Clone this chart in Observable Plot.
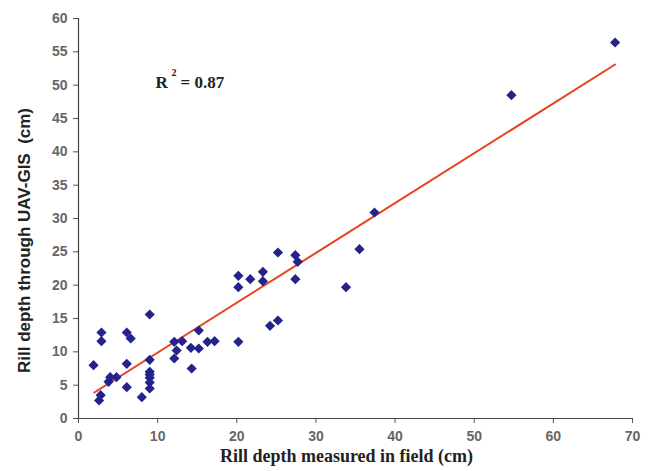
<!DOCTYPE html>
<html>
<head>
<meta charset="utf-8">
<script src="https://cdn.jsdelivr.net/npm/d3@7"></script>
<script src="https://cdn.jsdelivr.net/npm/@observablehq/plot@0.6"></script>
<style>
  html, body { margin: 0; padding: 0; background: #fff; }
  #chart svg { display: block; }
</style>
</head>
<body>
<div id="chart"></div>
<script>
// Rill depth measured in field (cm)
const fieldDepth = [
  1.9, 2.6, 2.8, 2.9, 2.9, 3.8, 4.0, 4.8, 6.1, 6.1, 6.1, 6.6,
  8.0, 9.0, 9.0, 9.0, 9.0, 9.0, 9.0, 9.0,
  12.1, 12.1, 12.4, 13.1, 14.2, 14.3, 15.2, 15.2, 16.3, 17.2,
  20.2, 20.2, 20.2, 21.7, 23.3, 23.3, 24.2, 25.2, 25.2,
  27.4, 27.4, 27.7, 33.8, 35.5, 37.4, 54.7, 67.8
];
// Rill depth through UAV-GIS (cm)
const uavDepth = [
  8.0, 2.7, 3.5, 12.9, 11.6, 5.5, 6.2, 6.2, 12.9, 8.2, 4.7, 12.0,
  3.2, 15.6, 8.8, 7.0, 6.1, 5.4, 4.5, 6.6,
  11.5, 9.0, 10.2, 11.6, 10.6, 7.5, 13.2, 10.5, 11.5, 11.6,
  21.4, 19.7, 11.5, 20.9, 22.0, 20.6, 13.9, 24.9, 14.7,
  24.5, 20.9, 23.5, 19.7, 25.4, 30.9, 48.5, 56.4
];
// Trend line end points
const fitX = [2.0, 67.8];
const fitY = [3.9, 53.1];
const rLabel = "R";
const rSup = "2";
const rValue = "= 0.87";
const xTitle = "Rill depth measured in field (cm)";
const yTitle = "Rill depth through UAV-GIS  (cm)";
const xTicks = [0, 10, 20, 30, 40, 50, 60, 70];
const yTicks = [0, 5, 10, 15, 20, 25, 30, 35, 40, 45, 50, 55, 60];

const points = fieldDepth.map((x, i) => ({x, y: uavDepth[i]}));
const fit = fitX.map((x, i) => ({x, y: fitY[i]}));

const serif = "'Liberation Serif', 'Times New Roman', serif";
const sans = "'Liberation Sans', Arial, sans-serif";

const chart = Plot.plot({
  width: 664,
  height: 471,
  marginLeft: 78,
  marginRight: 32,
  marginTop: 18,
  marginBottom: 53,
  style: {fontFamily: sans, background: "#fff"},
  x: {domain: [0, 70]},
  y: {domain: [0, 60]},
  marks: [
    Plot.axisY({
      ticks: yTicks, tickSize: 5, tickPadding: 6,
      fontSize: 14, fontWeight: "bold", fill: "#666", stroke: "#555",
      label: null
    }),
    Plot.axisX({
      ticks: xTicks, tickSize: 5, tickPadding: 8,
      fontSize: 14, fontWeight: "bold", fill: "#666", stroke: "#555",
      label: null
    }),
    Plot.ruleY([0], {stroke: "#444", strokeWidth: 1.2}),
    Plot.ruleX([0], {stroke: "#444", strokeWidth: 1.2}),
    Plot.line(fit, {x: "x", y: "y", stroke: "#e8401c", strokeWidth: 2}),
    Plot.dot(points, {x: "x", y: "y", symbol: "diamond2", r: 4.6, fill: "#24238c", stroke: "none"}),
    Plot.text([rLabel], {
      frameAnchor: "top-left", dx: 77, dy: 57, text: d => d, textAnchor: "start",
      fontFamily: serif, fontWeight: "bold", fontSize: 17, fill: "#222"
    }),
    Plot.text([rSup], {
      frameAnchor: "top-left", dx: 93, dy: 50, text: d => d, textAnchor: "start",
      fontFamily: serif, fontWeight: "bold", fontSize: 10, fill: "#222"
    }),
    Plot.text([rValue], {
      frameAnchor: "top-left", dx: 102, dy: 57, text: d => d, textAnchor: "start",
      fontFamily: serif, fontWeight: "bold", fontSize: 17, fill: "#222"
    }),
    Plot.text([xTitle], {
      frameAnchor: "bottom", dx: -9, dy: 43, text: d => d, textAnchor: "middle",
      fontFamily: serif, fontWeight: "bold", fontSize: 18, fill: "#222"
    }),
    Plot.text([yTitle], {
      frameAnchor: "left", dx: -54, dy: 22, text: d => d, rotate: -90, textAnchor: "middle",
      fontFamily: sans, fontWeight: "bold", fontSize: 17, fill: "#222"
    })
  ]
});
document.getElementById("chart").appendChild(chart);
</script>
</body>
</html>
